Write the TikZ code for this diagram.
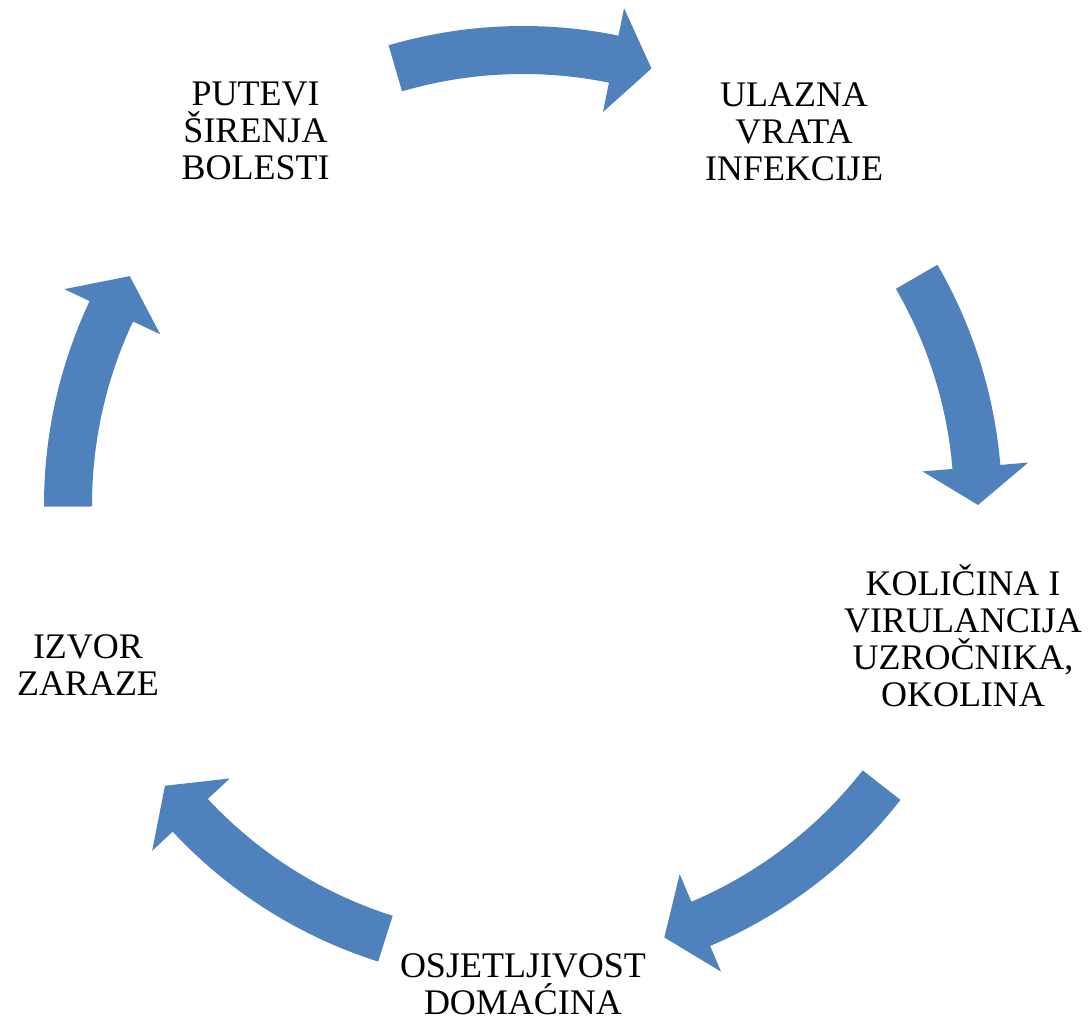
\documentclass[tikz,border=0pt]{standalone}
\usepackage{fontspec}
\setmainfont{Liberation Serif}
\usetikzlibrary{positioning}

\definecolor{arrowblue}{RGB}{79,129,189}

% curved block arrow on the cycle: tail angle, head base angle, tip angle
\newcommand{\cyclearrow}[3]{%
  \fill[arrowblue, shift={(523,520)}] (#1:479) arc[start angle=#1, end angle=#2, radius=479]
    -- (#2:507) -- (#3:455) -- (#2:401) -- (#2:431)
    arc[start angle=#2, end angle=#1, radius=431] -- cycle;}

\tikzset{cycletext/.style={align=center, inner sep=0pt, anchor=base,
    font=\fontsize{36}{37}\selectfont}}

\begin{document}
\begin{tikzpicture}[x=1pt, y=1pt]
    \useasboundingbox (0,0) rectangle (1089,1025);

    % Stages of the cycle (placed by the baseline of their last line)
    \node[cycletext] (putevi) at (255.5, 845) {PUTEVI\\ŠIRENJA\\BOLESTI};
    \node[cycletext] (ulazna) at (794, 844) {ULAZNA\\VRATA\\INFEKCIJE};
    \node[cycletext] (kolicina) at (963, 318) {KOLIČINA I\\VIRULANCIJA\\UZROČNIKA,\\OKOLINA};
    \node[cycletext] (osjetljivost) at (523, 11) {OSJETLJIVOST\\DOMAĆINA};
    \node[cycletext] (izvor) at (88, 329) {IZVOR\\ZARAZE};

    % Arrows round the circle
    \cyclearrow{106.3}{78.5}{73.6}
    \cyclearrow{30.1}{4.8}{0}
    \cyclearrow{-38}{-67}{-71.9}
    \cyclearrow{-107.6}{-137}{-141.9}
    \cyclearrow{180.2}{154.8}{149.8}
\end{tikzpicture}
\end{document}
